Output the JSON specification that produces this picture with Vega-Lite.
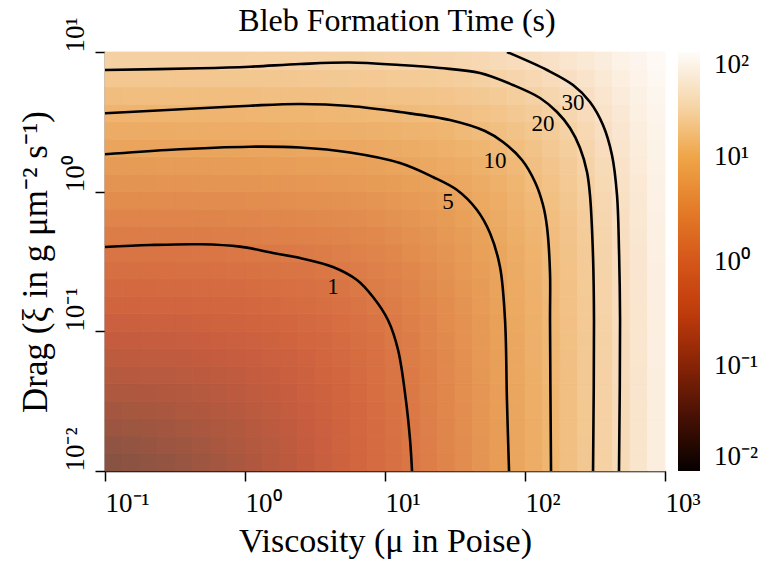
{
"$schema":"https://vega.github.io/schema/vega-lite/v6.json",
"width":560,"height":419,
"autosize":{"type":"none"},
"padding":{"left":105,"top":52,"right":115,"bottom":107},
"background":"white",
"title":{"text":"Bleb Formation Time (s)","font":"Liberation Serif","fontSize":32,"fontWeight":"normal","color":"black","anchor":"middle","frame":"group","offset":-21,"dx":12},
"config":{"view":{"stroke":null},"axis":{"grid":false}},
"datasets":{
"grid":[
{"mu":0.115,"xi":0.0115,"t":0.044},{"mu":0.154,"xi":0.0115,"t":0.0474},{"mu":0.205,"xi":0.0115,"t":0.0518},{"mu":0.274,"xi":0.0115,"t":0.0574},{"mu":0.365,"xi":0.0115,"t":0.0647},{"mu":0.487,"xi":0.0115,"t":0.0742},{"mu":0.649,"xi":0.0115,"t":0.0865},{"mu":0.866,"xi":0.0115,"t":0.103},{"mu":1.15,"xi":0.0115,"t":0.124},{"mu":1.54,"xi":0.0115,"t":0.151},{"mu":2.05,"xi":0.0115,"t":0.188},{"mu":2.74,"xi":0.0115,"t":0.235},{"mu":3.65,"xi":0.0115,"t":0.299},{"mu":4.87,"xi":0.0115,"t":0.382},{"mu":6.49,"xi":0.0115,"t":0.492},{"mu":8.66,"xi":0.0115,"t":0.638},{"mu":11.5,"xi":0.0115,"t":0.831},{"mu":15.4,"xi":0.0115,"t":1.09},{"mu":20.5,"xi":0.0115,"t":1.43},{"mu":27.4,"xi":0.0115,"t":1.88},{"mu":36.5,"xi":0.0115,"t":2.48},{"mu":48.7,"xi":0.0115,"t":3.28},{"mu":64.9,"xi":0.0115,"t":4.34},{"mu":86.6,"xi":0.0115,"t":5.75},{"mu":115,"xi":0.0115,"t":7.63},{"mu":154,"xi":0.0115,"t":10.1},{"mu":205,"xi":0.0115,"t":13.5},{"mu":274,"xi":0.0115,"t":17.9},{"mu":365,"xi":0.0115,"t":23.8},{"mu":487,"xi":0.0115,"t":31.6},{"mu":649,"xi":0.0115,"t":42.1},{"mu":866,"xi":0.0115,"t":56.1},
{"mu":0.115,"xi":0.0154,"t":0.0552},{"mu":0.154,"xi":0.0154,"t":0.0587},{"mu":0.205,"xi":0.0154,"t":0.0632},{"mu":0.274,"xi":0.0154,"t":0.0691},{"mu":0.365,"xi":0.0154,"t":0.0766},{"mu":0.487,"xi":0.0154,"t":0.0863},{"mu":0.649,"xi":0.0154,"t":0.0989},{"mu":0.866,"xi":0.0154,"t":0.115},{"mu":1.15,"xi":0.0154,"t":0.137},{"mu":1.54,"xi":0.0154,"t":0.165},{"mu":2.05,"xi":0.0154,"t":0.202},{"mu":2.74,"xi":0.0154,"t":0.25},{"mu":3.65,"xi":0.0154,"t":0.314},{"mu":4.87,"xi":0.0154,"t":0.398},{"mu":6.49,"xi":0.0154,"t":0.509},{"mu":8.66,"xi":0.0154,"t":0.656},{"mu":11.5,"xi":0.0154,"t":0.851},{"mu":15.4,"xi":0.0154,"t":1.11},{"mu":20.5,"xi":0.0154,"t":1.45},{"mu":27.4,"xi":0.0154,"t":1.9},{"mu":36.5,"xi":0.0154,"t":2.51},{"mu":48.7,"xi":0.0154,"t":3.31},{"mu":64.9,"xi":0.0154,"t":4.37},{"mu":86.6,"xi":0.0154,"t":5.78},{"mu":115,"xi":0.0154,"t":7.66},{"mu":154,"xi":0.0154,"t":10.2},{"mu":205,"xi":0.0154,"t":13.5},{"mu":274,"xi":0.0154,"t":17.9},{"mu":365,"xi":0.0154,"t":23.8},{"mu":487,"xi":0.0154,"t":31.7},{"mu":649,"xi":0.0154,"t":42.2},{"mu":866,"xi":0.0154,"t":56.2},
{"mu":0.115,"xi":0.0205,"t":0.0699},{"mu":0.154,"xi":0.0205,"t":0.0736},{"mu":0.205,"xi":0.0205,"t":0.0783},{"mu":0.274,"xi":0.0205,"t":0.0843},{"mu":0.365,"xi":0.0205,"t":0.0921},{"mu":0.487,"xi":0.0205,"t":0.102},{"mu":0.649,"xi":0.0205,"t":0.115},{"mu":0.866,"xi":0.0205,"t":0.132},{"mu":1.15,"xi":0.0205,"t":0.154},{"mu":1.54,"xi":0.0205,"t":0.183},{"mu":2.05,"xi":0.0205,"t":0.22},{"mu":2.74,"xi":0.0205,"t":0.269},{"mu":3.65,"xi":0.0205,"t":0.334},{"mu":4.87,"xi":0.0205,"t":0.419},{"mu":6.49,"xi":0.0205,"t":0.531},{"mu":8.66,"xi":0.0205,"t":0.679},{"mu":11.5,"xi":0.0205,"t":0.875},{"mu":15.4,"xi":0.0205,"t":1.13},{"mu":20.5,"xi":0.0205,"t":1.48},{"mu":27.4,"xi":0.0205,"t":1.93},{"mu":36.5,"xi":0.0205,"t":2.54},{"mu":48.7,"xi":0.0205,"t":3.34},{"mu":64.9,"xi":0.0205,"t":4.41},{"mu":86.6,"xi":0.0205,"t":5.83},{"mu":115,"xi":0.0205,"t":7.71},{"mu":154,"xi":0.0205,"t":10.2},{"mu":205,"xi":0.0205,"t":13.6},{"mu":274,"xi":0.0205,"t":18},{"mu":365,"xi":0.0205,"t":23.9},{"mu":487,"xi":0.0205,"t":31.8},{"mu":649,"xi":0.0205,"t":42.3},{"mu":866,"xi":0.0205,"t":56.3},
{"mu":0.115,"xi":0.0274,"t":0.0892},{"mu":0.154,"xi":0.0274,"t":0.0931},{"mu":0.205,"xi":0.0274,"t":0.0981},{"mu":0.274,"xi":0.0274,"t":0.104},{"mu":0.365,"xi":0.0274,"t":0.113},{"mu":0.487,"xi":0.0274,"t":0.123},{"mu":0.649,"xi":0.0274,"t":0.136},{"mu":0.866,"xi":0.0274,"t":0.154},{"mu":1.15,"xi":0.0274,"t":0.176},{"mu":1.54,"xi":0.0274,"t":0.205},{"mu":2.05,"xi":0.0274,"t":0.243},{"mu":2.74,"xi":0.0274,"t":0.293},{"mu":3.65,"xi":0.0274,"t":0.359},{"mu":4.87,"xi":0.0274,"t":0.445},{"mu":6.49,"xi":0.0274,"t":0.558},{"mu":8.66,"xi":0.0274,"t":0.708},{"mu":11.5,"xi":0.0274,"t":0.906},{"mu":15.4,"xi":0.0274,"t":1.17},{"mu":20.5,"xi":0.0274,"t":1.51},{"mu":27.4,"xi":0.0274,"t":1.97},{"mu":36.5,"xi":0.0274,"t":2.58},{"mu":48.7,"xi":0.0274,"t":3.38},{"mu":64.9,"xi":0.0274,"t":4.46},{"mu":86.6,"xi":0.0274,"t":5.88},{"mu":115,"xi":0.0274,"t":7.77},{"mu":154,"xi":0.0274,"t":10.3},{"mu":205,"xi":0.0274,"t":13.6},{"mu":274,"xi":0.0274,"t":18.1},{"mu":365,"xi":0.0274,"t":24},{"mu":487,"xi":0.0274,"t":31.9},{"mu":649,"xi":0.0274,"t":42.4},{"mu":866,"xi":0.0274,"t":56.4},
{"mu":0.115,"xi":0.0365,"t":0.115},{"mu":0.154,"xi":0.0365,"t":0.119},{"mu":0.205,"xi":0.0365,"t":0.124},{"mu":0.274,"xi":0.0365,"t":0.131},{"mu":0.365,"xi":0.0365,"t":0.139},{"mu":0.487,"xi":0.0365,"t":0.15},{"mu":0.649,"xi":0.0365,"t":0.164},{"mu":0.866,"xi":0.0365,"t":0.182},{"mu":1.15,"xi":0.0365,"t":0.205},{"mu":1.54,"xi":0.0365,"t":0.235},{"mu":2.05,"xi":0.0365,"t":0.274},{"mu":2.74,"xi":0.0365,"t":0.325},{"mu":3.65,"xi":0.0365,"t":0.391},{"mu":4.87,"xi":0.0365,"t":0.479},{"mu":6.49,"xi":0.0365,"t":0.593},{"mu":8.66,"xi":0.0365,"t":0.744},{"mu":11.5,"xi":0.0365,"t":0.944},{"mu":15.4,"xi":0.0365,"t":1.21},{"mu":20.5,"xi":0.0365,"t":1.56},{"mu":27.4,"xi":0.0365,"t":2.02},{"mu":36.5,"xi":0.0365,"t":2.63},{"mu":48.7,"xi":0.0365,"t":3.44},{"mu":64.9,"xi":0.0365,"t":4.51},{"mu":86.6,"xi":0.0365,"t":5.94},{"mu":115,"xi":0.0365,"t":7.84},{"mu":154,"xi":0.0365,"t":10.4},{"mu":205,"xi":0.0365,"t":13.7},{"mu":274,"xi":0.0365,"t":18.2},{"mu":365,"xi":0.0365,"t":24.1},{"mu":487,"xi":0.0365,"t":32},{"mu":649,"xi":0.0365,"t":42.5},{"mu":866,"xi":0.0365,"t":56.5},
{"mu":0.115,"xi":0.0487,"t":0.149},{"mu":0.154,"xi":0.0487,"t":0.153},{"mu":0.205,"xi":0.0487,"t":0.159},{"mu":0.274,"xi":0.0487,"t":0.166},{"mu":0.365,"xi":0.0487,"t":0.175},{"mu":0.487,"xi":0.0487,"t":0.186},{"mu":0.649,"xi":0.0487,"t":0.2},{"mu":0.866,"xi":0.0487,"t":0.218},{"mu":1.15,"xi":0.0487,"t":0.242},{"mu":1.54,"xi":0.0487,"t":0.273},{"mu":2.05,"xi":0.0487,"t":0.313},{"mu":2.74,"xi":0.0487,"t":0.365},{"mu":3.65,"xi":0.0487,"t":0.433},{"mu":4.87,"xi":0.0487,"t":0.522},{"mu":6.49,"xi":0.0487,"t":0.638},{"mu":8.66,"xi":0.0487,"t":0.791},{"mu":11.5,"xi":0.0487,"t":0.993},{"mu":15.4,"xi":0.0487,"t":1.26},{"mu":20.5,"xi":0.0487,"t":1.61},{"mu":27.4,"xi":0.0487,"t":2.08},{"mu":36.5,"xi":0.0487,"t":2.69},{"mu":48.7,"xi":0.0487,"t":3.5},{"mu":64.9,"xi":0.0487,"t":4.58},{"mu":86.6,"xi":0.0487,"t":6.02},{"mu":115,"xi":0.0487,"t":7.92},{"mu":154,"xi":0.0487,"t":10.5},{"mu":205,"xi":0.0487,"t":13.8},{"mu":274,"xi":0.0487,"t":18.3},{"mu":365,"xi":0.0487,"t":24.2},{"mu":487,"xi":0.0487,"t":32.2},{"mu":649,"xi":0.0487,"t":42.7},{"mu":866,"xi":0.0487,"t":56.7},
{"mu":0.115,"xi":0.0649,"t":0.194},{"mu":0.154,"xi":0.0649,"t":0.198},{"mu":0.205,"xi":0.0649,"t":0.204},{"mu":0.274,"xi":0.0649,"t":0.212},{"mu":0.365,"xi":0.0649,"t":0.221},{"mu":0.487,"xi":0.0649,"t":0.233},{"mu":0.649,"xi":0.0649,"t":0.248},{"mu":0.866,"xi":0.0649,"t":0.267},{"mu":1.15,"xi":0.0649,"t":0.291},{"mu":1.54,"xi":0.0649,"t":0.323},{"mu":2.05,"xi":0.0649,"t":0.364},{"mu":2.74,"xi":0.0649,"t":0.417},{"mu":3.65,"xi":0.0649,"t":0.487},{"mu":4.87,"xi":0.0649,"t":0.577},{"mu":6.49,"xi":0.0649,"t":0.696},{"mu":8.66,"xi":0.0649,"t":0.851},{"mu":11.5,"xi":0.0649,"t":1.06},{"mu":15.4,"xi":0.0649,"t":1.32},{"mu":20.5,"xi":0.0649,"t":1.68},{"mu":27.4,"xi":0.0649,"t":2.15},{"mu":36.5,"xi":0.0649,"t":2.77},{"mu":48.7,"xi":0.0649,"t":3.59},{"mu":64.9,"xi":0.0649,"t":4.67},{"mu":86.6,"xi":0.0649,"t":6.11},{"mu":115,"xi":0.0649,"t":8.03},{"mu":154,"xi":0.0649,"t":10.6},{"mu":205,"xi":0.0649,"t":13.9},{"mu":274,"xi":0.0649,"t":18.4},{"mu":365,"xi":0.0649,"t":24.4},{"mu":487,"xi":0.0649,"t":32.3},{"mu":649,"xi":0.0649,"t":42.9},{"mu":866,"xi":0.0649,"t":56.9},
{"mu":0.115,"xi":0.0866,"t":0.253},{"mu":0.154,"xi":0.0866,"t":0.258},{"mu":0.205,"xi":0.0866,"t":0.265},{"mu":0.274,"xi":0.0866,"t":0.272},{"mu":0.365,"xi":0.0866,"t":0.282},{"mu":0.487,"xi":0.0866,"t":0.295},{"mu":0.649,"xi":0.0866,"t":0.31},{"mu":0.866,"xi":0.0866,"t":0.33},{"mu":1.15,"xi":0.0866,"t":0.356},{"mu":1.54,"xi":0.0866,"t":0.388},{"mu":2.05,"xi":0.0866,"t":0.431},{"mu":2.74,"xi":0.0866,"t":0.485},{"mu":3.65,"xi":0.0866,"t":0.556},{"mu":4.87,"xi":0.0866,"t":0.649},{"mu":6.49,"xi":0.0866,"t":0.769},{"mu":8.66,"xi":0.0866,"t":0.928},{"mu":11.5,"xi":0.0866,"t":1.14},{"mu":15.4,"xi":0.0866,"t":1.41},{"mu":20.5,"xi":0.0866,"t":1.77},{"mu":27.4,"xi":0.0866,"t":2.24},{"mu":36.5,"xi":0.0866,"t":2.86},{"mu":48.7,"xi":0.0866,"t":3.69},{"mu":64.9,"xi":0.0866,"t":4.78},{"mu":86.6,"xi":0.0866,"t":6.23},{"mu":115,"xi":0.0866,"t":8.15},{"mu":154,"xi":0.0866,"t":10.7},{"mu":205,"xi":0.0866,"t":14.1},{"mu":274,"xi":0.0866,"t":18.6},{"mu":365,"xi":0.0866,"t":24.6},{"mu":487,"xi":0.0866,"t":32.5},{"mu":649,"xi":0.0866,"t":43.1},{"mu":866,"xi":0.0866,"t":57.2},
{"mu":0.115,"xi":0.115,"t":0.333},{"mu":0.154,"xi":0.115,"t":0.338},{"mu":0.205,"xi":0.115,"t":0.345},{"mu":0.274,"xi":0.115,"t":0.353},{"mu":0.365,"xi":0.115,"t":0.363},{"mu":0.487,"xi":0.115,"t":0.376},{"mu":0.649,"xi":0.115,"t":0.393},{"mu":0.866,"xi":0.115,"t":0.414},{"mu":1.15,"xi":0.115,"t":0.44},{"mu":1.54,"xi":0.115,"t":0.474},{"mu":2.05,"xi":0.115,"t":0.518},{"mu":2.74,"xi":0.115,"t":0.574},{"mu":3.65,"xi":0.115,"t":0.647},{"mu":4.87,"xi":0.115,"t":0.742},{"mu":6.49,"xi":0.115,"t":0.865},{"mu":8.66,"xi":0.115,"t":1.03},{"mu":11.5,"xi":0.115,"t":1.24},{"mu":15.4,"xi":0.115,"t":1.51},{"mu":20.5,"xi":0.115,"t":1.88},{"mu":27.4,"xi":0.115,"t":2.35},{"mu":36.5,"xi":0.115,"t":2.99},{"mu":48.7,"xi":0.115,"t":3.82},{"mu":64.9,"xi":0.115,"t":4.92},{"mu":86.6,"xi":0.115,"t":6.38},{"mu":115,"xi":0.115,"t":8.31},{"mu":154,"xi":0.115,"t":10.9},{"mu":205,"xi":0.115,"t":14.3},{"mu":274,"xi":0.115,"t":18.8},{"mu":365,"xi":0.115,"t":24.8},{"mu":487,"xi":0.115,"t":32.8},{"mu":649,"xi":0.115,"t":43.4},{"mu":866,"xi":0.115,"t":57.5},
{"mu":0.115,"xi":0.154,"t":0.438},{"mu":0.154,"xi":0.154,"t":0.443},{"mu":0.205,"xi":0.154,"t":0.451},{"mu":0.274,"xi":0.154,"t":0.46},{"mu":0.365,"xi":0.154,"t":0.471},{"mu":0.487,"xi":0.154,"t":0.485},{"mu":0.649,"xi":0.154,"t":0.502},{"mu":0.866,"xi":0.154,"t":0.524},{"mu":1.15,"xi":0.154,"t":0.552},{"mu":1.54,"xi":0.154,"t":0.587},{"mu":2.05,"xi":0.154,"t":0.632},{"mu":2.74,"xi":0.154,"t":0.691},{"mu":3.65,"xi":0.154,"t":0.766},{"mu":4.87,"xi":0.154,"t":0.863},{"mu":6.49,"xi":0.154,"t":0.989},{"mu":8.66,"xi":0.154,"t":1.15},{"mu":11.5,"xi":0.154,"t":1.37},{"mu":15.4,"xi":0.154,"t":1.65},{"mu":20.5,"xi":0.154,"t":2.02},{"mu":27.4,"xi":0.154,"t":2.5},{"mu":36.5,"xi":0.154,"t":3.14},{"mu":48.7,"xi":0.154,"t":3.98},{"mu":64.9,"xi":0.154,"t":5.09},{"mu":86.6,"xi":0.154,"t":6.56},{"mu":115,"xi":0.154,"t":8.51},{"mu":154,"xi":0.154,"t":11.1},{"mu":205,"xi":0.154,"t":14.5},{"mu":274,"xi":0.154,"t":19},{"mu":365,"xi":0.154,"t":25.1},{"mu":487,"xi":0.154,"t":33.1},{"mu":649,"xi":0.154,"t":43.7},{"mu":866,"xi":0.154,"t":57.8},
{"mu":0.115,"xi":0.205,"t":0.577},{"mu":0.154,"xi":0.205,"t":0.584},{"mu":0.205,"xi":0.205,"t":0.591},{"mu":0.274,"xi":0.205,"t":0.601},{"mu":0.365,"xi":0.205,"t":0.613},{"mu":0.487,"xi":0.205,"t":0.628},{"mu":0.649,"xi":0.205,"t":0.646},{"mu":0.866,"xi":0.205,"t":0.669},{"mu":1.15,"xi":0.205,"t":0.699},{"mu":1.54,"xi":0.205,"t":0.736},{"mu":2.05,"xi":0.205,"t":0.783},{"mu":2.74,"xi":0.205,"t":0.843},{"mu":3.65,"xi":0.205,"t":0.921},{"mu":4.87,"xi":0.205,"t":1.02},{"mu":6.49,"xi":0.205,"t":1.15},{"mu":8.66,"xi":0.205,"t":1.32},{"mu":11.5,"xi":0.205,"t":1.54},{"mu":15.4,"xi":0.205,"t":1.83},{"mu":20.5,"xi":0.205,"t":2.2},{"mu":27.4,"xi":0.205,"t":2.69},{"mu":36.5,"xi":0.205,"t":3.34},{"mu":48.7,"xi":0.205,"t":4.19},{"mu":64.9,"xi":0.205,"t":5.31},{"mu":86.6,"xi":0.205,"t":6.79},{"mu":115,"xi":0.205,"t":8.75},{"mu":154,"xi":0.205,"t":11.3},{"mu":205,"xi":0.205,"t":14.8},{"mu":274,"xi":0.205,"t":19.3},{"mu":365,"xi":0.205,"t":25.4},{"mu":487,"xi":0.205,"t":33.4},{"mu":649,"xi":0.205,"t":44.1},{"mu":866,"xi":0.205,"t":58.3},
{"mu":0.115,"xi":0.274,"t":0.762},{"mu":0.154,"xi":0.274,"t":0.77},{"mu":0.205,"xi":0.274,"t":0.778},{"mu":0.274,"xi":0.274,"t":0.789},{"mu":0.365,"xi":0.274,"t":0.801},{"mu":0.487,"xi":0.274,"t":0.817},{"mu":0.649,"xi":0.274,"t":0.837},{"mu":0.866,"xi":0.274,"t":0.862},{"mu":1.15,"xi":0.274,"t":0.892},{"mu":1.54,"xi":0.274,"t":0.931},{"mu":2.05,"xi":0.274,"t":0.981},{"mu":2.74,"xi":0.274,"t":1.04},{"mu":3.65,"xi":0.274,"t":1.13},{"mu":4.87,"xi":0.274,"t":1.23},{"mu":6.49,"xi":0.274,"t":1.36},{"mu":8.66,"xi":0.274,"t":1.54},{"mu":11.5,"xi":0.274,"t":1.76},{"mu":15.4,"xi":0.274,"t":2.05},{"mu":20.5,"xi":0.274,"t":2.43},{"mu":27.4,"xi":0.274,"t":2.93},{"mu":36.5,"xi":0.274,"t":3.59},{"mu":48.7,"xi":0.274,"t":4.45},{"mu":64.9,"xi":0.274,"t":5.58},{"mu":86.6,"xi":0.274,"t":7.08},{"mu":115,"xi":0.274,"t":9.06},{"mu":154,"xi":0.274,"t":11.7},{"mu":205,"xi":0.274,"t":15.1},{"mu":274,"xi":0.274,"t":19.7},{"mu":365,"xi":0.274,"t":25.8},{"mu":487,"xi":0.274,"t":33.8},{"mu":649,"xi":0.274,"t":44.6},{"mu":866,"xi":0.274,"t":58.8},
{"mu":0.115,"xi":0.365,"t":1.01},{"mu":0.154,"xi":0.365,"t":1.02},{"mu":0.205,"xi":0.365,"t":1.03},{"mu":0.274,"xi":0.365,"t":1.04},{"mu":0.365,"xi":0.365,"t":1.05},{"mu":0.487,"xi":0.365,"t":1.07},{"mu":0.649,"xi":0.365,"t":1.09},{"mu":0.866,"xi":0.365,"t":1.12},{"mu":1.15,"xi":0.365,"t":1.15},{"mu":1.54,"xi":0.365,"t":1.19},{"mu":2.05,"xi":0.365,"t":1.24},{"mu":2.74,"xi":0.365,"t":1.31},{"mu":3.65,"xi":0.365,"t":1.39},{"mu":4.87,"xi":0.365,"t":1.5},{"mu":6.49,"xi":0.365,"t":1.64},{"mu":8.66,"xi":0.365,"t":1.82},{"mu":11.5,"xi":0.365,"t":2.05},{"mu":15.4,"xi":0.365,"t":2.35},{"mu":20.5,"xi":0.365,"t":2.74},{"mu":27.4,"xi":0.365,"t":3.25},{"mu":36.5,"xi":0.365,"t":3.91},{"mu":48.7,"xi":0.365,"t":4.79},{"mu":64.9,"xi":0.365,"t":5.93},{"mu":86.6,"xi":0.365,"t":7.44},{"mu":115,"xi":0.365,"t":9.44},{"mu":154,"xi":0.365,"t":12.1},{"mu":205,"xi":0.365,"t":15.6},{"mu":274,"xi":0.365,"t":20.2},{"mu":365,"xi":0.365,"t":26.3},{"mu":487,"xi":0.365,"t":34.4},{"mu":649,"xi":0.365,"t":45.1},{"mu":866,"xi":0.365,"t":59.4},
{"mu":0.115,"xi":0.487,"t":1.34},{"mu":0.154,"xi":0.487,"t":1.35},{"mu":0.205,"xi":0.487,"t":1.36},{"mu":0.274,"xi":0.487,"t":1.37},{"mu":0.365,"xi":0.487,"t":1.38},{"mu":0.487,"xi":0.487,"t":1.4},{"mu":0.649,"xi":0.487,"t":1.43},{"mu":0.866,"xi":0.487,"t":1.45},{"mu":1.15,"xi":0.487,"t":1.49},{"mu":1.54,"xi":0.487,"t":1.53},{"mu":2.05,"xi":0.487,"t":1.59},{"mu":2.74,"xi":0.487,"t":1.66},{"mu":3.65,"xi":0.487,"t":1.75},{"mu":4.87,"xi":0.487,"t":1.86},{"mu":6.49,"xi":0.487,"t":2},{"mu":8.66,"xi":0.487,"t":2.18},{"mu":11.5,"xi":0.487,"t":2.42},{"mu":15.4,"xi":0.487,"t":2.73},{"mu":20.5,"xi":0.487,"t":3.13},{"mu":27.4,"xi":0.487,"t":3.65},{"mu":36.5,"xi":0.487,"t":4.33},{"mu":48.7,"xi":0.487,"t":5.22},{"mu":64.9,"xi":0.487,"t":6.38},{"mu":86.6,"xi":0.487,"t":7.91},{"mu":115,"xi":0.487,"t":9.93},{"mu":154,"xi":0.487,"t":12.6},{"mu":205,"xi":0.487,"t":16.1},{"mu":274,"xi":0.487,"t":20.8},{"mu":365,"xi":0.487,"t":26.9},{"mu":487,"xi":0.487,"t":35},{"mu":649,"xi":0.487,"t":45.8},{"mu":866,"xi":0.487,"t":60.2},
{"mu":0.115,"xi":0.649,"t":1.77},{"mu":0.154,"xi":0.649,"t":1.78},{"mu":0.205,"xi":0.649,"t":1.79},{"mu":0.274,"xi":0.649,"t":1.81},{"mu":0.365,"xi":0.649,"t":1.83},{"mu":0.487,"xi":0.649,"t":1.85},{"mu":0.649,"xi":0.649,"t":1.87},{"mu":0.866,"xi":0.649,"t":1.9},{"mu":1.15,"xi":0.649,"t":1.94},{"mu":1.54,"xi":0.649,"t":1.98},{"mu":2.05,"xi":0.649,"t":2.04},{"mu":2.74,"xi":0.649,"t":2.12},{"mu":3.65,"xi":0.649,"t":2.21},{"mu":4.87,"xi":0.649,"t":2.33},{"mu":6.49,"xi":0.649,"t":2.48},{"mu":8.66,"xi":0.649,"t":2.67},{"mu":11.5,"xi":0.649,"t":2.91},{"mu":15.4,"xi":0.649,"t":3.23},{"mu":20.5,"xi":0.649,"t":3.64},{"mu":27.4,"xi":0.649,"t":4.17},{"mu":36.5,"xi":0.649,"t":4.87},{"mu":48.7,"xi":0.649,"t":5.77},{"mu":64.9,"xi":0.649,"t":6.96},{"mu":86.6,"xi":0.649,"t":8.51},{"mu":115,"xi":0.649,"t":10.6},{"mu":154,"xi":0.649,"t":13.2},{"mu":205,"xi":0.649,"t":16.8},{"mu":274,"xi":0.649,"t":21.5},{"mu":365,"xi":0.649,"t":27.7},{"mu":487,"xi":0.649,"t":35.9},{"mu":649,"xi":0.649,"t":46.7},{"mu":866,"xi":0.649,"t":61.1},
{"mu":0.115,"xi":0.866,"t":2.36},{"mu":0.154,"xi":0.866,"t":2.37},{"mu":0.205,"xi":0.866,"t":2.38},{"mu":0.274,"xi":0.866,"t":2.39},{"mu":0.365,"xi":0.866,"t":2.41},{"mu":0.487,"xi":0.866,"t":2.43},{"mu":0.649,"xi":0.866,"t":2.46},{"mu":0.866,"xi":0.866,"t":2.49},{"mu":1.15,"xi":0.866,"t":2.53},{"mu":1.54,"xi":0.866,"t":2.58},{"mu":2.05,"xi":0.866,"t":2.65},{"mu":2.74,"xi":0.866,"t":2.72},{"mu":3.65,"xi":0.866,"t":2.82},{"mu":4.87,"xi":0.866,"t":2.95},{"mu":6.49,"xi":0.866,"t":3.1},{"mu":8.66,"xi":0.866,"t":3.3},{"mu":11.5,"xi":0.866,"t":3.56},{"mu":15.4,"xi":0.866,"t":3.88},{"mu":20.5,"xi":0.866,"t":4.31},{"mu":27.4,"xi":0.866,"t":4.85},{"mu":36.5,"xi":0.866,"t":5.56},{"mu":48.7,"xi":0.866,"t":6.49},{"mu":64.9,"xi":0.866,"t":7.69},{"mu":86.6,"xi":0.866,"t":9.28},{"mu":115,"xi":0.866,"t":11.4},{"mu":154,"xi":0.866,"t":14.1},{"mu":205,"xi":0.866,"t":17.7},{"mu":274,"xi":0.866,"t":22.4},{"mu":365,"xi":0.866,"t":28.6},{"mu":487,"xi":0.866,"t":36.9},{"mu":649,"xi":0.866,"t":47.8},{"mu":866,"xi":0.866,"t":62.3},
{"mu":0.115,"xi":1.15,"t":3.13},{"mu":0.154,"xi":1.15,"t":3.14},{"mu":0.205,"xi":1.15,"t":3.15},{"mu":0.274,"xi":1.15,"t":3.17},{"mu":0.365,"xi":1.15,"t":3.19},{"mu":0.487,"xi":1.15,"t":3.22},{"mu":0.649,"xi":1.15,"t":3.25},{"mu":0.866,"xi":1.15,"t":3.28},{"mu":1.15,"xi":1.15,"t":3.33},{"mu":1.54,"xi":1.15,"t":3.38},{"mu":2.05,"xi":1.15,"t":3.45},{"mu":2.74,"xi":1.15,"t":3.53},{"mu":3.65,"xi":1.15,"t":3.63},{"mu":4.87,"xi":1.15,"t":3.76},{"mu":6.49,"xi":1.15,"t":3.93},{"mu":8.66,"xi":1.15,"t":4.14},{"mu":11.5,"xi":1.15,"t":4.4},{"mu":15.4,"xi":1.15,"t":4.74},{"mu":20.5,"xi":1.15,"t":5.18},{"mu":27.4,"xi":1.15,"t":5.74},{"mu":36.5,"xi":1.15,"t":6.47},{"mu":48.7,"xi":1.15,"t":7.42},{"mu":64.9,"xi":1.15,"t":8.65},{"mu":86.6,"xi":1.15,"t":10.3},{"mu":115,"xi":1.15,"t":12.4},{"mu":154,"xi":1.15,"t":15.1},{"mu":205,"xi":1.15,"t":18.8},{"mu":274,"xi":1.15,"t":23.5},{"mu":365,"xi":1.15,"t":29.9},{"mu":487,"xi":1.15,"t":38.2},{"mu":649,"xi":1.15,"t":49.2},{"mu":866,"xi":1.15,"t":63.8},
{"mu":0.115,"xi":1.54,"t":4.16},{"mu":0.154,"xi":1.54,"t":4.17},{"mu":0.205,"xi":1.54,"t":4.19},{"mu":0.274,"xi":1.54,"t":4.21},{"mu":0.365,"xi":1.54,"t":4.23},{"mu":0.487,"xi":1.54,"t":4.26},{"mu":0.649,"xi":1.54,"t":4.29},{"mu":0.866,"xi":1.54,"t":4.33},{"mu":1.15,"xi":1.54,"t":4.38},{"mu":1.54,"xi":1.54,"t":4.43},{"mu":2.05,"xi":1.54,"t":4.51},{"mu":2.74,"xi":1.54,"t":4.6},{"mu":3.65,"xi":1.54,"t":4.71},{"mu":4.87,"xi":1.54,"t":4.85},{"mu":6.49,"xi":1.54,"t":5.02},{"mu":8.66,"xi":1.54,"t":5.24},{"mu":11.5,"xi":1.54,"t":5.52},{"mu":15.4,"xi":1.54,"t":5.87},{"mu":20.5,"xi":1.54,"t":6.32},{"mu":27.4,"xi":1.54,"t":6.91},{"mu":36.5,"xi":1.54,"t":7.66},{"mu":48.7,"xi":1.54,"t":8.63},{"mu":64.9,"xi":1.54,"t":9.89},{"mu":86.6,"xi":1.54,"t":11.5},{"mu":115,"xi":1.54,"t":13.7},{"mu":154,"xi":1.54,"t":16.5},{"mu":205,"xi":1.54,"t":20.2},{"mu":274,"xi":1.54,"t":25},{"mu":365,"xi":1.54,"t":31.4},{"mu":487,"xi":1.54,"t":39.8},{"mu":649,"xi":1.54,"t":50.9},{"mu":866,"xi":1.54,"t":65.6},
{"mu":0.115,"xi":2.05,"t":5.53},{"mu":0.154,"xi":2.05,"t":5.55},{"mu":0.205,"xi":2.05,"t":5.56},{"mu":0.274,"xi":2.05,"t":5.58},{"mu":0.365,"xi":2.05,"t":5.61},{"mu":0.487,"xi":2.05,"t":5.64},{"mu":0.649,"xi":2.05,"t":5.68},{"mu":0.866,"xi":2.05,"t":5.72},{"mu":1.15,"xi":2.05,"t":5.77},{"mu":1.54,"xi":2.05,"t":5.84},{"mu":2.05,"xi":2.05,"t":5.91},{"mu":2.74,"xi":2.05,"t":6.01},{"mu":3.65,"xi":2.05,"t":6.13},{"mu":4.87,"xi":2.05,"t":6.28},{"mu":6.49,"xi":2.05,"t":6.46},{"mu":8.66,"xi":2.05,"t":6.69},{"mu":11.5,"xi":2.05,"t":6.99},{"mu":15.4,"xi":2.05,"t":7.36},{"mu":20.5,"xi":2.05,"t":7.83},{"mu":27.4,"xi":2.05,"t":8.43},{"mu":36.5,"xi":2.05,"t":9.21},{"mu":48.7,"xi":2.05,"t":10.2},{"mu":64.9,"xi":2.05,"t":11.5},{"mu":86.6,"xi":2.05,"t":13.2},{"mu":115,"xi":2.05,"t":15.4},{"mu":154,"xi":2.05,"t":18.3},{"mu":205,"xi":2.05,"t":22},{"mu":274,"xi":2.05,"t":26.9},{"mu":365,"xi":2.05,"t":33.4},{"mu":487,"xi":2.05,"t":41.9},{"mu":649,"xi":2.05,"t":53.1},{"mu":866,"xi":2.05,"t":67.9},
{"mu":0.115,"xi":2.74,"t":7.36},{"mu":0.154,"xi":2.74,"t":7.38},{"mu":0.205,"xi":2.74,"t":7.4},{"mu":0.274,"xi":2.74,"t":7.42},{"mu":0.365,"xi":2.74,"t":7.45},{"mu":0.487,"xi":2.74,"t":7.48},{"mu":0.649,"xi":2.74,"t":7.52},{"mu":0.866,"xi":2.74,"t":7.57},{"mu":1.15,"xi":2.74,"t":7.62},{"mu":1.54,"xi":2.74,"t":7.7},{"mu":2.05,"xi":2.74,"t":7.78},{"mu":2.74,"xi":2.74,"t":7.89},{"mu":3.65,"xi":2.74,"t":8.01},{"mu":4.87,"xi":2.74,"t":8.17},{"mu":6.49,"xi":2.74,"t":8.37},{"mu":8.66,"xi":2.74,"t":8.62},{"mu":11.5,"xi":2.74,"t":8.92},{"mu":15.4,"xi":2.74,"t":9.31},{"mu":20.5,"xi":2.74,"t":9.81},{"mu":27.4,"xi":2.74,"t":10.4},{"mu":36.5,"xi":2.74,"t":11.3},{"mu":48.7,"xi":2.74,"t":12.3},{"mu":64.9,"xi":2.74,"t":13.6},{"mu":86.6,"xi":2.74,"t":15.4},{"mu":115,"xi":2.74,"t":17.6},{"mu":154,"xi":2.74,"t":20.5},{"mu":205,"xi":2.74,"t":24.3},{"mu":274,"xi":2.74,"t":29.3},{"mu":365,"xi":2.74,"t":35.9},{"mu":487,"xi":2.74,"t":44.5},{"mu":649,"xi":2.74,"t":55.8},{"mu":866,"xi":2.74,"t":70.8},
{"mu":0.115,"xi":3.65,"t":9.79},{"mu":0.154,"xi":3.65,"t":9.81},{"mu":0.205,"xi":3.65,"t":9.84},{"mu":0.274,"xi":3.65,"t":9.86},{"mu":0.365,"xi":3.65,"t":9.9},{"mu":0.487,"xi":3.65,"t":9.93},{"mu":0.649,"xi":3.65,"t":9.97},{"mu":0.866,"xi":3.65,"t":10},{"mu":1.15,"xi":3.65,"t":10.1},{"mu":1.54,"xi":3.65,"t":10.2},{"mu":2.05,"xi":3.65,"t":10.3},{"mu":2.74,"xi":3.65,"t":10.4},{"mu":3.65,"xi":3.65,"t":10.5},{"mu":4.87,"xi":3.65,"t":10.7},{"mu":6.49,"xi":3.65,"t":10.9},{"mu":8.66,"xi":3.65,"t":11.2},{"mu":11.5,"xi":3.65,"t":11.5},{"mu":15.4,"xi":3.65,"t":11.9},{"mu":20.5,"xi":3.65,"t":12.4},{"mu":27.4,"xi":3.65,"t":13.1},{"mu":36.5,"xi":3.65,"t":13.9},{"mu":48.7,"xi":3.65,"t":15},{"mu":64.9,"xi":3.65,"t":16.4},{"mu":86.6,"xi":3.65,"t":18.2},{"mu":115,"xi":3.65,"t":20.5},{"mu":154,"xi":3.65,"t":23.5},{"mu":205,"xi":3.65,"t":27.4},{"mu":274,"xi":3.65,"t":32.5},{"mu":365,"xi":3.65,"t":39.1},{"mu":487,"xi":3.65,"t":47.9},{"mu":649,"xi":3.65,"t":59.3},{"mu":866,"xi":3.65,"t":74.4},
{"mu":0.115,"xi":4.87,"t":13},{"mu":0.154,"xi":4.87,"t":13.1},{"mu":0.205,"xi":4.87,"t":13.1},{"mu":0.274,"xi":4.87,"t":13.1},{"mu":0.365,"xi":4.87,"t":13.2},{"mu":0.487,"xi":4.87,"t":13.2},{"mu":0.649,"xi":4.87,"t":13.2},{"mu":0.866,"xi":4.87,"t":13.3},{"mu":1.15,"xi":4.87,"t":13.4},{"mu":1.54,"xi":4.87,"t":13.5},{"mu":2.05,"xi":4.87,"t":13.6},{"mu":2.74,"xi":4.87,"t":13.7},{"mu":3.65,"xi":4.87,"t":13.8},{"mu":4.87,"xi":4.87,"t":14},{"mu":6.49,"xi":4.87,"t":14.3},{"mu":8.66,"xi":4.87,"t":14.5},{"mu":11.5,"xi":4.87,"t":14.9},{"mu":15.4,"xi":4.87,"t":15.3},{"mu":20.5,"xi":4.87,"t":15.9},{"mu":27.4,"xi":4.87,"t":16.6},{"mu":36.5,"xi":4.87,"t":17.5},{"mu":48.7,"xi":4.87,"t":18.6},{"mu":64.9,"xi":4.87,"t":20},{"mu":86.6,"xi":4.87,"t":21.8},{"mu":115,"xi":4.87,"t":24.2},{"mu":154,"xi":4.87,"t":27.3},{"mu":205,"xi":4.87,"t":31.3},{"mu":274,"xi":4.87,"t":36.5},{"mu":365,"xi":4.87,"t":43.3},{"mu":487,"xi":4.87,"t":52.2},{"mu":649,"xi":4.87,"t":63.8},{"mu":866,"xi":4.87,"t":79.1},
{"mu":0.115,"xi":6.49,"t":17.4},{"mu":0.154,"xi":6.49,"t":17.4},{"mu":0.205,"xi":6.49,"t":17.4},{"mu":0.274,"xi":6.49,"t":17.5},{"mu":0.365,"xi":6.49,"t":17.5},{"mu":0.487,"xi":6.49,"t":17.5},{"mu":0.649,"xi":6.49,"t":17.6},{"mu":0.866,"xi":6.49,"t":17.7},{"mu":1.15,"xi":6.49,"t":17.7},{"mu":1.54,"xi":6.49,"t":17.8},{"mu":2.05,"xi":6.49,"t":17.9},{"mu":2.74,"xi":6.49,"t":18.1},{"mu":3.65,"xi":6.49,"t":18.3},{"mu":4.87,"xi":6.49,"t":18.5},{"mu":6.49,"xi":6.49,"t":18.7},{"mu":8.66,"xi":6.49,"t":19},{"mu":11.5,"xi":6.49,"t":19.4},{"mu":15.4,"xi":6.49,"t":19.8},{"mu":20.5,"xi":6.49,"t":20.4},{"mu":27.4,"xi":6.49,"t":21.2},{"mu":36.5,"xi":6.49,"t":22.1},{"mu":48.7,"xi":6.49,"t":23.3},{"mu":64.9,"xi":6.49,"t":24.8},{"mu":86.6,"xi":6.49,"t":26.7},{"mu":115,"xi":6.49,"t":29.1},{"mu":154,"xi":6.49,"t":32.3},{"mu":205,"xi":6.49,"t":36.4},{"mu":274,"xi":6.49,"t":41.7},{"mu":365,"xi":6.49,"t":48.7},{"mu":487,"xi":6.49,"t":57.7},{"mu":649,"xi":6.49,"t":69.6},{"mu":866,"xi":6.49,"t":85.1},
{"mu":0.115,"xi":8.66,"t":23.1},{"mu":0.154,"xi":8.66,"t":23.2},{"mu":0.205,"xi":8.66,"t":23.2},{"mu":0.274,"xi":8.66,"t":23.2},{"mu":0.365,"xi":8.66,"t":23.3},{"mu":0.487,"xi":8.66,"t":23.3},{"mu":0.649,"xi":8.66,"t":23.4},{"mu":0.866,"xi":8.66,"t":23.5},{"mu":1.15,"xi":8.66,"t":23.6},{"mu":1.54,"xi":8.66,"t":23.7},{"mu":2.05,"xi":8.66,"t":23.8},{"mu":2.74,"xi":8.66,"t":23.9},{"mu":3.65,"xi":8.66,"t":24.1},{"mu":4.87,"xi":8.66,"t":24.3},{"mu":6.49,"xi":8.66,"t":24.6},{"mu":8.66,"xi":8.66,"t":24.9},{"mu":11.5,"xi":8.66,"t":25.3},{"mu":15.4,"xi":8.66,"t":25.8},{"mu":20.5,"xi":8.66,"t":26.5},{"mu":27.4,"xi":8.66,"t":27.2},{"mu":36.5,"xi":8.66,"t":28.2},{"mu":48.7,"xi":8.66,"t":29.5},{"mu":64.9,"xi":8.66,"t":31},{"mu":86.6,"xi":8.66,"t":33},{"mu":115,"xi":8.66,"t":35.6},{"mu":154,"xi":8.66,"t":38.8},{"mu":205,"xi":8.66,"t":43.1},{"mu":274,"xi":8.66,"t":48.5},{"mu":365,"xi":8.66,"t":55.6},{"mu":487,"xi":8.66,"t":64.9},{"mu":649,"xi":8.66,"t":76.9},{"mu":866,"xi":8.66,"t":92.8}
],
"contours":[
{"c":1,"o":1,"mu":0.1,"xi":0.402},{"c":1,"o":2,"mu":0.21,"xi":0.415},{"c":1,"o":3,"mu":0.478,"xi":0.42},{"c":1,"o":4,"mu":0.921,"xi":0.404},{"c":1,"o":5,"mu":1.585,"xi":0.364},{"c":1,"o":6,"mu":2.47,"xi":0.335},{"c":1,"o":7,"mu":4.25,"xi":0.289},{"c":1,"o":8,"mu":6.31,"xi":0.233},{"c":1,"o":9,"mu":8.21,"xi":0.176},{"c":1,"o":10,"mu":10.5,"xi":0.1205},{"c":1,"o":11,"mu":12.4,"xi":0.0735},{"c":1,"o":12,"mu":14.1,"xi":0.0322},{"c":1,"o":13,"mu":15.1,"xi":0.0167},{"c":1,"o":14,"mu":15.6,"xi":0.01},
{"c":5,"o":1,"mu":0.1,"xi":1.851},{"c":5,"o":2,"mu":0.277,"xi":1.988},{"c":5,"o":3,"mu":1.086,"xi":2.099},{"c":5,"o":4,"mu":2.47,"xi":2.071},{"c":5,"o":5,"mu":5.62,"xi":1.908},{"c":5,"o":6,"mu":12.8,"xi":1.604},{"c":5,"o":7,"mu":22.0,"xi":1.274},{"c":5,"o":8,"mu":32.7,"xi":1.028},{"c":5,"o":9,"mu":45.4,"xi":0.74},{"c":5,"o":10,"mu":56.2,"xi":0.506},{"c":5,"o":11,"mu":66.3,"xi":0.289},{"c":5,"o":12,"mu":72.0,"xi":0.1205},{"c":5,"o":13,"mu":74.3,"xi":0.0322},{"c":5,"o":14,"mu":76.9,"xi":0.01},
{"c":10,"o":1,"mu":0.1,"xi":3.639},{"c":10,"o":2,"mu":0.478,"xi":3.953},{"c":10,"o":3,"mu":1.086,"xi":4.127},{"c":10,"o":4,"mu":2.47,"xi":4.244},{"c":10,"o":5,"mu":5.62,"xi":4.106},{"c":10,"o":6,"mu":12.8,"xi":3.718},{"c":10,"o":7,"mu":29.1,"xi":3.26},{"c":10,"o":8,"mu":51.8,"xi":2.719},{"c":10,"o":9,"mu":69.6,"xi":2.268},{"c":10,"o":10,"mu":95.2,"xi":1.686},{"c":10,"o":11,"mu":117.9,"xi":1.173},{"c":10,"o":12,"mu":134.5,"xi":0.803},{"c":10,"o":13,"mu":143.6,"xi":0.5585},{"c":10,"o":14,"mu":150.9,"xi":0.262},{"c":10,"o":15,"mu":150.9,"xi":0.1205},{"c":10,"o":16,"mu":153.4,"xi":0.01},
{"c":20,"o":1,"mu":0.1,"xi":7.43},{"c":20,"o":2,"mu":0.478,"xi":7.645},{"c":20,"o":3,"mu":1.086,"xi":7.85},{"c":20,"o":4,"mu":2.47,"xi":8.206},{"c":20,"o":5,"mu":5.62,"xi":8.41},{"c":20,"o":6,"mu":12.8,"xi":8.07},{"c":20,"o":7,"mu":24.7,"xi":7.68},{"c":20,"o":8,"mu":47.7,"xi":7.07},{"c":20,"o":9,"mu":82.1,"xi":5.8},{"c":20,"o":10,"mu":128,"xi":4.686},{"c":20,"o":11,"mu":169.3,"xi":3.718},{"c":20,"o":12,"mu":209.6,"xi":2.857},{"c":20,"o":13,"mu":247.2,"xi":2.055},{"c":20,"o":14,"mu":277.3,"xi":1.383},{"c":20,"o":15,"mu":291.1,"xi":0.947},{"c":20,"o":16,"mu":306.2,"xi":0.3405},{"c":20,"o":17,"mu":311,"xi":0.1205},{"c":20,"o":18,"mu":306.2,"xi":0.01},
{"c":30,"o":1,"mu":74.3,"xi":10},{"c":30,"o":2,"mu":143.6,"xi":7.43},{"c":30,"o":3,"mu":220.3,"xi":5.8},{"c":30,"o":4,"mu":291.1,"xi":4.385},{"c":30,"o":5,"mu":360.6,"xi":3.001},{"c":30,"o":6,"mu":418,"xi":1.83},{"c":30,"o":7,"mu":454,"xi":0.947},{"c":30,"o":8,"mu":469.3,"xi":0.382},{"c":30,"o":9,"mu":477.5,"xi":0.1205},{"c":30,"o":10,"mu":469.3,"xi":0.01}
],
"labels":[
{"lab":"1","mu":4.25,"xi":0.208},{"lab":"5","mu":28.2,"xi":0.843},{"lab":"10","mu":61.1,"xi":1.66},{"lab":"20","mu":134.5,"xi":3.05},{"lab":"30","mu":220,"xi":4.31}
],
"bar":[{"t":0.01},{"t":100}]
},
"layer":[
{"data":{"name":"grid"},"mark":{"type":"rect","strokeWidth":0.8},
 "encoding":{
  "x":{"field":"mu","type":"ordinal","sort":"ascending","scale":{"paddingInner":0,"paddingOuter":0},"axis":null},
  "y":{"field":"xi","type":"ordinal","sort":"descending","scale":{"paddingInner":0,"paddingOuter":0},"axis":null},
  "color":{"field":"t","type":"quantitative","legend":null,"scale":{"type":"log","interpolate":"rgb","domain":[0.044,0.1,0.25,0.5,1,2,5,10,20,35,60,100],"range":["#895343","#a9573f","#c55c3f","#d2663f","#d97444","#e0874c","#e9a159","#efb570","#f4cb97","#f8dec0","#fcf0e3","#fefbf7"]}},
  "stroke":{"field":"t","type":"quantitative","legend":null,"scale":{"type":"log","interpolate":"rgb","domain":[0.044,0.1,0.25,0.5,1,2,5,10,20,35,60,100],"range":["#895343","#a9573f","#c55c3f","#d2663f","#d97444","#e0874c","#e9a159","#efb570","#f4cb97","#f8dec0","#fcf0e3","#fefbf7"]}}
 }},
{"layer":[
 {"data":{"name":"contours"},"mark":{"type":"line","color":"black","strokeWidth":2.6,"interpolate":"catmull-rom","clip":true},
  "encoding":{
   "x":{"field":"mu","type":"quantitative","scale":{"type":"log","domain":[0.1,1000],"nice":false},
        "axis":{"orient":"bottom","values":[0.1,1,10,100,1000],"labelExpr":"datum.value < 0.5 ? '10⁻¹' : datum.value < 5 ? '10⁰' : datum.value < 50 ? '10¹' : datum.value < 500 ? '10²' : '10³'","title":"Viscosity (μ in Poise)","grid":false,"domainColor":"black","domainWidth":1.5,"tickColor":"black","tickWidth":1.5,"tickSize":10,"labelFont":"Liberation Serif","labelFontSize":27,"labelColor":"black","labelPadding":9,"labelAlign":"left","labelBaseline":"top","labelDx":-11,"labelFlush":false,"labelOverlap":false,"titleFont":"Liberation Serif","titleFontSize":34,"titleFontWeight":"normal","titleColor":"black","titlePadding":8}},
   "y":{"field":"xi","type":"quantitative","scale":{"type":"log","domain":[0.01,10],"nice":false},
        "axis":{"orient":"left","values":[0.01,0.1,1,10],"labelExpr":"datum.value < 0.05 ? '10⁻²' : datum.value < 0.5 ? '10⁻¹' : datum.value < 5 ? '10⁰' : '10¹'","title":"Drag (ξ in g μm⁻² s⁻¹)","grid":false,"domainColor":"black","domainWidth":1.5,"tickColor":"black","tickWidth":1.5,"tickSize":10,"labelFont":"Liberation Serif","labelFontSize":27,"labelColor":"black","labelPadding":6,"labelAngle":-90,"labelAlign":"left","labelBaseline":"bottom","labelDx":-13,"labelFlush":false,"labelOverlap":false,"titleFont":"Liberation Serif","titleFontSize":35,"titleFontWeight":"normal","titleColor":"black","titlePadding":8}},
   "detail":{"field":"c","type":"nominal"},
   "order":{"field":"o","type":"quantitative"}
  }},
 {"data":{"name":"labels"},"mark":{"type":"text","font":"Liberation Serif","fontSize":23,"color":"black"},
  "encoding":{
   "x":{"field":"mu","type":"quantitative","scale":{"type":"log","domain":[0.1,1000],"nice":false}},
   "y":{"field":"xi","type":"quantitative","scale":{"type":"log","domain":[0.01,10],"nice":false}},
   "text":{"field":"lab","type":"nominal"}
  }},
 {"data":{"name":"bar"},"mark":{"type":"point","opacity":0},
  "encoding":{
   "color":{"field":"t","type":"quantitative",
     "scale":{"type":"log","interpolate":"rgb","domain":[0.01,0.0316,0.1,0.316,1,3.16,10,31.6,100],"range":["#060000","#451004","#862306","#bf3a0b","#d5561a","#e47c28","#efa548","#f6d6aa","#fefcfa"]},
     "legend":{"orient":"none","legendX":573,"legendY":0,"direction":"vertical","gradientLength":419,"gradientThickness":22,"values":[0.01,0.1,1,10,100],"labelExpr":"datum.value < 0.05 ? '10⁻²' : datum.value < 0.5 ? '10⁻¹' : datum.value < 5 ? '10⁰' : datum.value < 50 ? '10¹' : '10²'","title":null,"labelFont":"Liberation Serif","labelFontSize":27,"labelColor":"black","labelBaseline":"middle","labelAlign":"left","labelOffset":14,"labelOverlap":false,"labelLimit":80,"gradientStrokeWidth":0}}
  }}
]}
],
"resolve":{"scale":{"x":"independent","y":"independent","color":"independent","stroke":"independent"}}
}
